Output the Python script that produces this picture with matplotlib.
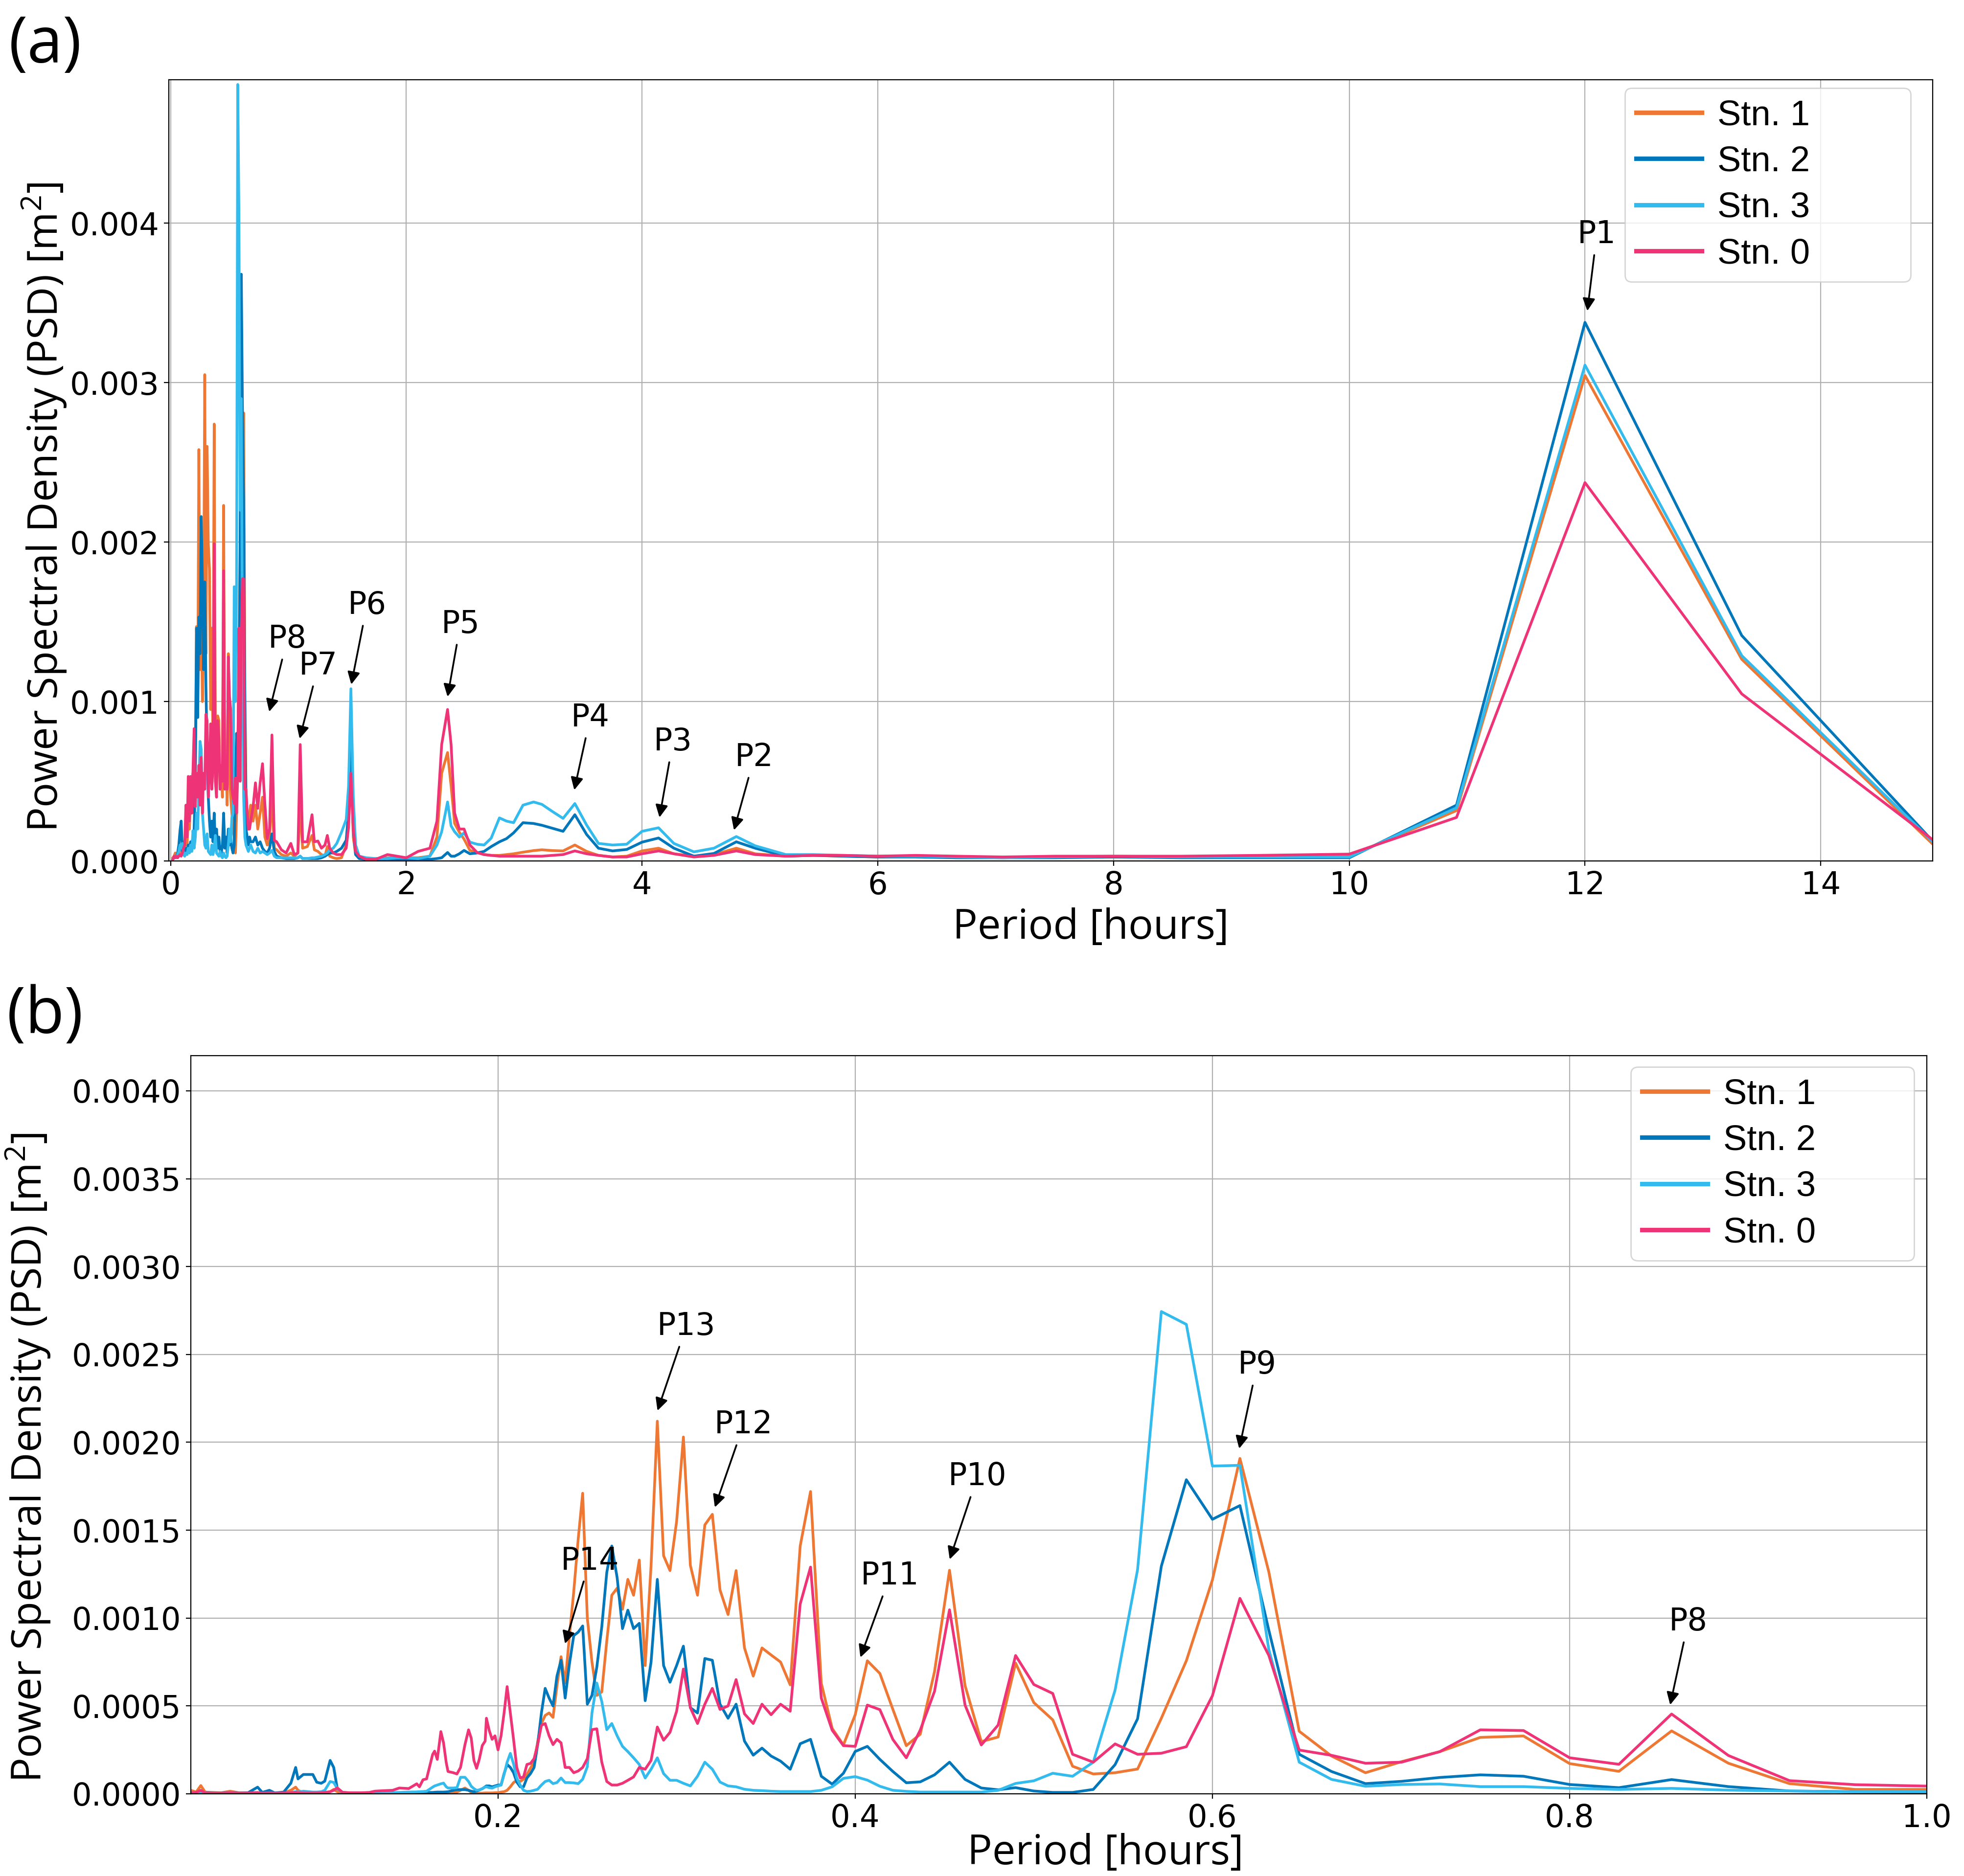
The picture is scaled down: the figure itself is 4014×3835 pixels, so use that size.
import numpy as np
import matplotlib
matplotlib.use("Agg")
import matplotlib.pyplot as plt
from matplotlib.ticker import MultipleLocator, FormatStrFormatter

# ----------------------------------------------------------
# data (PSD values in 1e-3 m^2, periods in hours)
# ----------------------------------------------------------
stations = ["Stn. 1", "Stn. 2", "Stn. 3", "Stn. 0"]
colors = ["#EE7733", "#0077BB", "#33BBEE", "#EE3377"]

# panel (a): full record
period_a = [
    # 0.02 - 0.68 h
    0.02, 0.03, 0.04, 0.05, 0.06, 0.07, 0.08, 0.09, 0.10, 0.11,
    0.12, 0.13, 0.14, 0.15, 0.16, 0.17, 0.18, 0.19, 0.20, 0.21,
    0.22, 0.23, 0.24, 0.25, 0.26, 0.27, 0.28, 0.29, 0.30, 0.31,
    0.32, 0.33, 0.34, 0.35, 0.36, 0.37, 0.38, 0.39, 0.40, 0.41,
    0.42, 0.43, 0.44, 0.45, 0.46, 0.47, 0.48, 0.49, 0.50, 0.51,
    0.52, 0.53, 0.54, 0.55, 0.56, 0.57, 0.58, 0.59, 0.60, 0.61,
    0.62, 0.63, 0.64, 0.65, 0.66, 0.67, 0.68,
    # 0.7 - 2 h
    0.70, 0.72, 0.74, 0.76, 0.78, 0.80, 0.82, 0.84, 0.86, 0.88,
    0.90, 0.94, 0.98, 1.02, 1.05, 1.08, 1.10, 1.12, 1.16, 1.20,
    1.22, 1.25, 1.28, 1.31, 1.33, 1.35, 1.38, 1.41, 1.45, 1.49,
    1.51, 1.53, 1.55, 1.57, 1.60, 1.66, 1.74, 1.84, 1.92, 2.00,
    # 2 - 5 h
    2.10, 2.20, 2.26, 2.30, 2.35, 2.38, 2.41, 2.45, 2.49, 2.54,
    2.60, 2.66, 2.72, 2.79, 2.85, 2.91, 2.99, 3.08, 3.15, 3.24,
    3.33, 3.43, 3.53, 3.63, 3.75, 3.87, 4.00, 4.14, 4.27, 4.44,
    4.61, 4.80, 4.96,
    # long periods
    5.22, 5.45, 5.71, 6.00, 6.32, 6.67, 7.06, 7.50, 8.00, 8.57,
    9.23, 10.00, 10.91, 12.00, 13.33, 15.00,
]

psd_a_stn1 = [
    0.02, 0.03, 0.05, 0.04, 0.03, 0.04, 0.06, 0.08, 0.05, 0.12,
    0.08, 0.15, 0.10, 0.25, 0.20, 0.45, 0.30, 0.55, 0.35, 0.60,
    1.47, 0.90, 2.58, 1.20, 1.60, 1.00, 1.40, 3.05, 1.30, 2.60,
    1.99, 1.83, 0.95, 1.46, 0.70, 2.74, 0.80, 0.60, 0.91, 0.88,
    0.45, 0.60, 0.40, 2.23, 0.50, 0.65, 0.35, 1.30, 0.55, 0.40,
    0.30, 0.20, 0.15, 0.05, 0.30, 0.70, 1.20, 1.50, 0.90, 1.45,
    2.81, 1.10, 0.45, 0.25, 0.20, 0.30, 0.35,
    0.25, 0.35, 0.20, 0.30, 0.40, 0.15, 0.10, 0.15, 0.42, 0.08,
    0.07, 0.04, 0.03, 0.05, 0.03, 0.05, 0.34, 0.08, 0.09, 0.16,
    0.07, 0.06, 0.04, 0.03, 0.09, 0.03, 0.02, 0.015, 0.02, 0.10,
    0.30, 0.65, 0.15, 0.04, 0.02, 0.015, 0.015, 0.02, 0.02, 0.02,
    0.02, 0.03, 0.15, 0.55, 0.68, 0.47, 0.235, 0.18, 0.137, 0.066,
    0.053, 0.04, 0.035, 0.035, 0.04, 0.045, 0.055, 0.065, 0.07, 0.065,
    0.063, 0.10, 0.06, 0.035, 0.025, 0.03, 0.063, 0.08, 0.045, 0.03,
    0.04, 0.08, 0.045,
    0.03, 0.035, 0.03, 0.025, 0.03, 0.025, 0.02, 0.025, 0.025, 0.025,
    0.025, 0.03, 0.316, 3.045, 1.265, 0.07,
]

psd_a_stn2 = [
    0.01, 0.02, 0.03, 0.02, 0.05, 0.10, 0.19, 0.25, 0.06, 0.04,
    0.05, 0.08, 0.06, 0.10, 0.08, 0.12, 0.10, 0.15, 0.20, 0.50,
    1.46, 0.90, 1.53, 1.30, 2.16, 1.75, 1.20, 1.75, 1.10, 0.67,
    0.40, 0.25, 0.15, 0.25, 0.12, 0.30, 0.10, 0.20, 0.08, 0.15,
    0.06, 0.05, 0.10, 0.30, 0.08, 0.15, 0.05, 0.20, 0.10, 0.15,
    0.08, 0.05, 0.10, 0.49, 0.80, 0.60, 1.14, 2.00, 3.68, 2.80,
    2.27, 1.00, 0.20, 0.15, 0.10, 0.15, 0.12,
    0.12, 0.15, 0.10, 0.12, 0.08, 0.06, 0.05, 0.08, 0.17, 0.06,
    0.03, 0.02, 0.015, 0.015, 0.015, 0.02, 0.03, 0.015, 0.015, 0.015,
    0.015, 0.015, 0.02, 0.03, 0.04, 0.05, 0.05, 0.06, 0.08, 0.13,
    0.30, 0.70, 0.20, 0.04, 0.015, 0.01, 0.01, 0.01, 0.01, 0.01,
    0.01, 0.01, 0.015, 0.02, 0.053, 0.03, 0.03, 0.045, 0.066, 0.045,
    0.05, 0.06, 0.09, 0.12, 0.14, 0.176, 0.24, 0.235, 0.224, 0.205,
    0.186, 0.29, 0.166, 0.08, 0.063, 0.072, 0.118, 0.144, 0.08, 0.03,
    0.047, 0.12, 0.08,
    0.03, 0.035, 0.03, 0.025, 0.025, 0.02, 0.02, 0.02, 0.025, 0.02,
    0.02, 0.02, 0.35, 3.378, 1.414, 0.085,
]

psd_a_stn3 = [
    0.01, 0.02, 0.03, 0.02, 0.04, 0.06, 0.10, 0.08, 0.11, 0.04,
    0.03, 0.05, 0.04, 0.08, 0.05, 0.10, 0.06, 0.19, 0.08, 0.15,
    0.30, 0.20, 0.45, 0.75, 0.70, 0.30, 0.20, 0.10, 0.08, 0.17,
    0.06, 0.05, 0.04, 0.10, 0.04, 0.08, 0.16, 0.05, 0.04, 0.03,
    0.06, 0.03, 0.02, 0.05, 0.03, 0.02, 0.03, 0.10, 0.20, 0.12,
    0.27, 0.30, 1.72, 1.00, 1.73, 4.87, 4.05, 2.20, 2.90, 1.30,
    0.40, 0.15, 0.10, 0.08, 0.06, 0.08, 0.10,
    0.06, 0.05, 0.08, 0.05, 0.06, 0.05, 0.04, 0.05, 0.066, 0.03,
    0.02, 0.02, 0.02, 0.02, 0.02, 0.02, 0.03, 0.015, 0.015, 0.02,
    0.02, 0.025, 0.03, 0.04, 0.05, 0.07, 0.08, 0.11, 0.18, 0.26,
    0.47, 1.08, 0.40, 0.10, 0.03, 0.02, 0.015, 0.015, 0.02, 0.02,
    0.015, 0.03, 0.10, 0.183, 0.37, 0.22, 0.183, 0.15, 0.176, 0.118,
    0.105, 0.10, 0.143, 0.27, 0.25, 0.24, 0.35, 0.37, 0.355, 0.31,
    0.267, 0.36, 0.225, 0.11, 0.10, 0.105, 0.186, 0.208, 0.11, 0.057,
    0.08, 0.153, 0.095,
    0.04, 0.04, 0.035, 0.03, 0.03, 0.025, 0.02, 0.025, 0.03, 0.025,
    0.025, 0.025, 0.333, 3.11, 1.288, 0.085,
]

psd_a_stn0 = [
    0.01, 0.03, 0.02, 0.03, 0.02, 0.03, 0.04, 0.03, 0.05, 0.08,
    0.10, 0.35, 0.15, 0.53, 0.25, 0.53, 0.30, 0.56, 0.83, 0.34,
    0.55, 0.40, 0.60, 0.35, 0.65, 0.30, 0.55, 0.45, 0.92, 0.88,
    0.40, 0.55, 0.86, 0.45, 0.60, 1.99, 0.50, 0.40, 0.88, 0.77,
    0.45, 0.60, 0.50, 1.82, 0.45, 0.55, 0.45, 1.28, 1.03, 0.95,
    0.45, 0.40, 0.36, 0.52, 0.30, 0.55, 1.46, 0.50, 1.46, 1.77,
    1.77, 0.45, 0.45, 0.30, 0.20, 0.20, 0.25,
    0.34, 0.49, 0.33, 0.49, 0.61, 0.36, 0.14, 0.20, 0.79, 0.13,
    0.12, 0.07, 0.05, 0.11, 0.04, 0.05, 0.73, 0.12, 0.12, 0.29,
    0.12, 0.125, 0.08, 0.10, 0.16, 0.08, 0.05, 0.04, 0.04, 0.08,
    0.21, 0.55, 0.20, 0.06, 0.03, 0.01, 0.01, 0.04, 0.03, 0.02,
    0.06, 0.08, 0.25, 0.73, 0.95, 0.73, 0.30, 0.20, 0.20, 0.10,
    0.053, 0.04, 0.035, 0.03, 0.03, 0.03, 0.03, 0.03, 0.03, 0.035,
    0.04, 0.063, 0.045, 0.035, 0.025, 0.025, 0.045, 0.063, 0.045, 0.025,
    0.035, 0.063, 0.04,
    0.03, 0.035, 0.035, 0.03, 0.035, 0.03, 0.025, 0.03, 0.03, 0.03,
    0.035, 0.043, 0.273, 2.373, 1.048, 0.105,
]

# panel (b): short periods
period_b = [
    0.028, 0.031, 0.0336, 0.036, 0.040, 0.045, 0.050, 0.055, 0.060, 0.0654,
    0.068, 0.072, 0.075, 0.080, 0.084, 0.0867, 0.088, 0.091, 0.0963, 0.0985,
    0.101, 0.103, 0.106, 0.108, 0.110, 0.113, 0.118, 0.123, 0.128, 0.131,
    0.136, 0.141, 0.1447, 0.150, 0.1545, 0.156, 0.158, 0.160, 0.1634, 0.1645,
    0.166, 0.168, 0.1695, 0.171, 0.172, 0.175, 0.177, 0.179, 0.1815, 0.1835,
    0.185, 0.1865, 0.188, 0.1895, 0.1912, 0.1928,
    0.1935, 0.1951, 0.1967, 0.1983, 0.2000, 0.2017, 0.2034, 0.2051, 0.2069, 0.2087,
    0.2105, 0.2124, 0.2143, 0.2162, 0.2182, 0.2202, 0.2222, 0.2243, 0.2264, 0.2286,
    0.2308, 0.2330, 0.2353, 0.2376, 0.2400, 0.2424, 0.2449, 0.2474, 0.2500, 0.2526,
    0.2553, 0.2581, 0.2609, 0.2637, 0.2667, 0.2697, 0.2727, 0.2759, 0.2791, 0.2824,
    0.2857, 0.2892, 0.2927, 0.2963, 0.3000, 0.3038, 0.3077, 0.3117, 0.3158, 0.3200,
    0.3243, 0.3288, 0.3333, 0.3380, 0.3429, 0.3478, 0.3529, 0.3582, 0.3636, 0.3692,
    0.3750, 0.3810, 0.3871, 0.3934, 0.4000, 0.4068, 0.4138, 0.4211, 0.4286, 0.4364,
    0.4444, 0.4528, 0.4615, 0.4706, 0.4800, 0.4898, 0.5000, 0.5106, 0.5217, 0.5333,
    0.5455, 0.5581, 0.5714, 0.5854, 0.6000, 0.6154, 0.6316, 0.6486, 0.6667, 0.6857,
    0.7059, 0.7273, 0.7500, 0.7742, 0.8000, 0.8276, 0.8571, 0.8889, 0.9231, 0.9600,
    1.0000,
]

psd_b_stn1 = [
    0.02, 0.01, 0.047, 0.01, 0.008, 0.006, 0.015, 0.006, 0.006, 0.008,
    0.005, 0.005, 0.004, 0.006, 0.02, 0.038, 0.02, 0.006, 0.005, 0.005,
    0.005, 0.005, 0.012, 0.025, 0.012, 0.004, 0.004, 0.004, 0.004, 0.004,
    0.004, 0.004, 0.004, 0.004, 0.004, 0.004, 0.004, 0.004, 0.004, 0.004,
    0.004, 0.004, 0.004, 0.004, 0.004, 0.006, 0.01, 0.02, 0.033, 0.02,
    0.008, 0.005, 0.004, 0.004, 0.004, 0.005,
    0.005, 0.005, 0.005, 0.006, 0.006, 0.01, 0.012, 0.02, 0.04, 0.064,
    0.077, 0.07, 0.083, 0.11, 0.147, 0.18, 0.295, 0.40, 0.446, 0.46,
    0.435, 0.615, 0.78, 0.63, 0.90, 1.15, 1.45, 1.71, 1.00, 0.75,
    0.56, 0.58, 0.87, 1.13, 1.17, 1.05, 1.22, 1.13, 1.33, 0.73,
    1.30, 2.12, 1.355, 1.27, 1.55, 2.03, 1.30, 1.13, 1.53, 1.59,
    1.16, 1.02, 1.27, 0.83, 0.67, 0.83, 0.79, 0.75, 0.62, 1.41,
    1.72, 0.63, 0.372, 0.278, 0.45, 0.757, 0.685, 0.48, 0.274, 0.339,
    0.695, 1.272, 0.616, 0.297, 0.323, 0.744, 0.519, 0.421, 0.157, 0.113,
    0.12, 0.141, 0.43, 0.757, 1.217, 1.908, 1.262, 0.356, 0.215, 0.12,
    0.183, 0.24, 0.321, 0.329, 0.172, 0.128, 0.358, 0.174, 0.058, 0.025,
    0.025,
]

psd_b_stn2 = [
    0.005, 0.005, 0.01, 0.005, 0.004, 0.004, 0.006, 0.004, 0.006, 0.038,
    0.008, 0.02, 0.005, 0.01, 0.06, 0.15, 0.085, 0.11, 0.11, 0.066,
    0.06, 0.072, 0.19, 0.15, 0.03, 0.008, 0.004, 0.004, 0.004, 0.004,
    0.004, 0.005, 0.005, 0.006, 0.006, 0.007, 0.007, 0.008, 0.008, 0.009,
    0.01, 0.01, 0.01, 0.011, 0.012, 0.02, 0.024, 0.024, 0.024, 0.02,
    0.015, 0.012, 0.015, 0.022, 0.029, 0.04,
    0.045, 0.045, 0.04, 0.045, 0.05, 0.05, 0.115, 0.167, 0.15, 0.12,
    0.067, 0.04, 0.04, 0.09, 0.115, 0.15, 0.28, 0.46, 0.60, 0.545,
    0.50, 0.67, 0.76, 0.545, 0.74, 0.90, 0.92, 0.955, 0.51, 0.56,
    0.72, 0.95, 1.26, 1.41, 1.23, 0.94, 1.045, 0.94, 0.97, 0.53,
    0.75, 1.22, 0.73, 0.635, 0.73, 0.84, 0.49, 0.46, 0.77, 0.76,
    0.51, 0.43, 0.51, 0.30, 0.22, 0.26, 0.215, 0.186, 0.14, 0.285,
    0.31, 0.10, 0.055, 0.117, 0.241, 0.27, 0.196, 0.127, 0.063, 0.068,
    0.108, 0.18, 0.082, 0.033, 0.023, 0.035, 0.016, 0.008, 0.008, 0.025,
    0.166, 0.427, 1.295, 1.787, 1.562, 1.64, 0.93, 0.225, 0.127, 0.058,
    0.071, 0.093, 0.108, 0.10, 0.053, 0.035, 0.081, 0.041, 0.016, 0.012,
    0.01,
]

psd_b_stn3 = [
    0.004, 0.004, 0.005, 0.004, 0.004, 0.004, 0.004, 0.004, 0.004, 0.006,
    0.004, 0.005, 0.004, 0.004, 0.008, 0.012, 0.01, 0.015, 0.01, 0.01,
    0.012, 0.02, 0.07, 0.065, 0.03, 0.008, 0.005, 0.005, 0.005, 0.005,
    0.006, 0.007, 0.008, 0.01, 0.011, 0.012, 0.013, 0.015, 0.038, 0.045,
    0.05, 0.057, 0.061, 0.04, 0.033, 0.033, 0.035, 0.094, 0.094, 0.07,
    0.043, 0.03, 0.02, 0.022, 0.03, 0.038,
    0.04, 0.035, 0.032, 0.04, 0.045, 0.05, 0.11, 0.18, 0.23, 0.17,
    0.09, 0.05, 0.02, 0.013, 0.015, 0.02, 0.026, 0.05, 0.07, 0.077,
    0.058, 0.064, 0.09, 0.064, 0.064, 0.062, 0.058, 0.083, 0.154, 0.46,
    0.63, 0.525, 0.365, 0.40, 0.33, 0.27, 0.24, 0.205, 0.167, 0.09,
    0.14, 0.205, 0.115, 0.077, 0.077, 0.06, 0.045, 0.10, 0.18, 0.14,
    0.067, 0.045, 0.04, 0.026, 0.02, 0.018, 0.015, 0.013, 0.013, 0.013,
    0.013, 0.02, 0.04, 0.088, 0.098, 0.078, 0.043, 0.02, 0.014, 0.01,
    0.01, 0.01, 0.01, 0.01, 0.02, 0.059, 0.074, 0.117, 0.10, 0.18,
    0.59, 1.276, 2.744, 2.671, 1.865, 1.869, 0.82, 0.18, 0.082, 0.043,
    0.053, 0.056, 0.041, 0.041, 0.031, 0.025, 0.031, 0.021, 0.016, 0.012,
    0.012,
]

psd_b_stn0 = [
    0.005, 0.008, 0.02, 0.005, 0.004, 0.004, 0.006, 0.004, 0.005, 0.006,
    0.004, 0.005, 0.004, 0.005, 0.006, 0.008, 0.006, 0.005, 0.005, 0.005,
    0.006, 0.008, 0.012, 0.02, 0.034, 0.008, 0.006, 0.006, 0.008, 0.015,
    0.018, 0.02, 0.033, 0.03, 0.057, 0.04, 0.08, 0.085, 0.224, 0.243,
    0.196, 0.354, 0.29, 0.178, 0.127, 0.12, 0.113, 0.15, 0.28, 0.364,
    0.317, 0.19, 0.145, 0.196, 0.275, 0.30,
    0.43, 0.36, 0.31, 0.33, 0.25, 0.33, 0.46, 0.61, 0.46, 0.31,
    0.15, 0.09, 0.096, 0.167, 0.173, 0.20, 0.28, 0.39, 0.40, 0.33,
    0.28, 0.31, 0.29, 0.15, 0.15, 0.12, 0.13, 0.15, 0.20, 0.365,
    0.37, 0.18, 0.07, 0.05, 0.05, 0.06, 0.077, 0.096, 0.15, 0.14,
    0.19, 0.38, 0.305, 0.35, 0.47, 0.71, 0.49, 0.40, 0.51, 0.60,
    0.48, 0.50, 0.65, 0.455, 0.40, 0.51, 0.45, 0.51, 0.47, 1.08,
    1.29, 0.545, 0.362, 0.274, 0.27, 0.505, 0.479, 0.309, 0.205, 0.362,
    0.583, 1.047, 0.505, 0.278, 0.391, 0.787, 0.622, 0.571, 0.225, 0.18,
    0.284, 0.225, 0.231, 0.268, 0.558, 1.112, 0.787, 0.249, 0.219, 0.174,
    0.18, 0.24, 0.364, 0.36, 0.205, 0.168, 0.454, 0.218, 0.075, 0.052,
    0.044,
]

# peak labels: name, arrow tip (x, y), text (x, baseline y)
peaks_a = [
    ("P1", 12.02, 3.45, 12.10, 3.874),
    ("P2", 4.78, 0.193, 4.952, 0.595),
    ("P3", 4.148, 0.273, 4.262, 0.693),
    ("P4", 3.425, 0.445, 3.56, 0.844),
    ("P5", 2.35, 1.03, 2.459, 1.43),
    ("P6", 1.533, 1.107, 1.666, 1.549),
    ("P7", 1.095, 0.767, 1.253, 1.169),
    ("P8", 0.837, 0.936, 0.990, 1.337),
]
peaks_b = [
    ("P13", 0.2893, 2.18, 0.3054, 2.61),
    ("P12", 0.3214, 1.63, 0.3375, 2.05),
    ("P14", 0.2375, 0.854, 0.2514, 1.275),
    ("P11", 0.4029, 0.776, 0.4195, 1.19),
    ("P10", 0.4529, 1.334, 0.4684, 1.755),
    ("P9", 0.615, 1.964, 0.625, 2.39),
    ("P8", 0.8563, 0.506, 0.8664, 0.929),
]

# ----------------------------------------------------------
# figure
# ----------------------------------------------------------
plt.rcParams["font.family"] = "DejaVu Sans"
plt.rcParams["mathtext.fontset"] = "custom"
plt.rcParams["mathtext.rm"] = "Open Sans"
plt.rcParams["mathtext.it"] = "Open Sans:italic"
plt.rcParams["mathtext.bf"] = "Open Sans:bold"

W, H = 4014, 3835
fig = plt.figure(figsize=(W / 200, H / 200), dpi=200)

ax_a = fig.add_axes([345 / W, 1 - 1760 / H, (3950 - 345) / W, (1760 - 163) / H])
ax_b = fig.add_axes([390 / W, 1 - 3667 / H, (3938 - 390) / W, (3667 - 2158) / H])

series_a = [psd_a_stn1, psd_a_stn2, psd_a_stn3, psd_a_stn0]
series_b = [psd_b_stn1, psd_b_stn2, psd_b_stn3, psd_b_stn0]

for vals, name, col in zip(series_a, stations, colors):
    ax_a.plot(period_a, np.array(vals) * 1e-3, color=col, lw=2.0, label=name)
for vals, name, col in zip(series_b, stations, colors):
    ax_b.plot(period_b, np.array(vals) * 1e-3, color=col, lw=2.0, label=name)


def add_peaks(ax, peaks):
    for name, tx, ty, lx, ly in peaks:
        ax.annotate(
            name,
            xy=(tx, ty * 1e-3),
            xytext=(lx, ly * 1e-3),
            ha="center",
            va="baseline",
            fontsize=23,
            arrowprops=dict(
                arrowstyle="-|>,head_length=0.4,head_width=0.2",
                color="black",
                lw=1.3,
                mutation_scale=19,
                shrinkA=2,
                shrinkB=0,
            ),
        )


add_peaks(ax_a, peaks_a)
add_peaks(ax_b, peaks_b)

# axes (a)
ax_a.set_xlim(-0.015, 14.95)
ax_a.set_ylim(0, 0.0049)
ax_a.xaxis.set_major_locator(MultipleLocator(2))
ax_a.yaxis.set_major_locator(MultipleLocator(0.001))
ax_a.yaxis.set_major_formatter(FormatStrFormatter("%.3f"))

# axes (b)
ax_b.set_xlim(0.028, 1.0)
ax_b.set_ylim(0, 0.0042)
ax_b.set_xticks([0.2, 0.4, 0.6, 0.8, 1.0])
ax_b.xaxis.set_major_formatter(FormatStrFormatter("%.1f"))
ax_b.yaxis.set_major_locator(MultipleLocator(0.0005))
ax_b.yaxis.set_major_formatter(FormatStrFormatter("%.4f"))

label_kw = dict(family="Open Sans", fontsize=30.5)
leg_boxes = {ax_a: (0.8255, 0.162, 0.9894), ax_b: (0.8295, 0.1632, 0.9848)}
label_pos = {
    ax_a: ((0.5226, -0.0858), (-0.0705, 0.4527)),
    ax_b: ((0.527, -0.081), (-0.0936, 0.4553)),
}

for ax in (ax_a, ax_b):
    ax.grid(True, color="#b0b0b0", lw=0.8)
    ax.set_axisbelow(True)
    ax.tick_params(labelsize=23, length=3.5)
    ax.set_xlabel("Period [hours]", **label_kw)
    ax.set_ylabel("Power Spectral Density (PSD) [m$^2$]", **label_kw)
    ax.xaxis.label.set_va("center")
    ax.yaxis.label.set_va("center")
    (xl, yl) = label_pos[ax]
    ax.xaxis.set_label_coords(*xl)
    ax.yaxis.set_label_coords(*yl)

    x0, w, top = leg_boxes[ax]
    leg = ax.legend(
        loc="upper left",
        bbox_to_anchor=(x0, 0.0, w, top),
        mode="expand",
        borderaxespad=0,
        prop=dict(family="Liberation Sans", size=26),
        handlelength=1.85,
        handletextpad=0.45,
        labelspacing=0.38,
        borderpad=0.32,
    )
    for line in leg.get_lines():
        line.set_linewidth(3.3)

fig.text(18 / W, 1 - 128 / H, "(a)", family="Open Sans", fontsize=47, va="baseline")
fig.text(14 / W, 1 - 2112 / H, "(b)", family="Open Sans", fontsize=47, va="baseline")

fig.savefig("out.png", dpi=200)
